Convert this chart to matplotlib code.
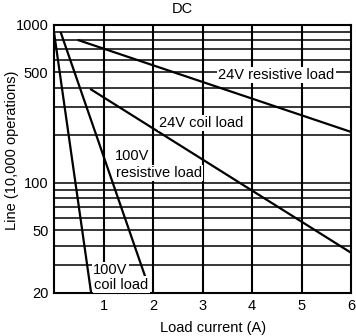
import matplotlib.pyplot as plt
from matplotlib.ticker import FixedLocator, NullLocator

plt.rcParams['font.family'] = ['Liberation Sans', 'DejaVu Sans']

# data (x: load current A, y: life in 10,000 operations)
res24_x = [0.5, 6.0]
res24_y = [800, 210]
coil24_x = [0.75, 6.0]
coil24_y = [390, 36]
res100_x = [0.14, 1.85]
res100_y = [890, 25]
coil100_x = [0.0, 0.75]
coil100_y = [900, 20]

grid_y = [20, 30, 40, 50, 60, 70, 80, 90, 100, 200, 300, 400, 500, 600, 700, 800, 900, 1000]
labeled_y = [20, 50, 100, 500, 1000]
x_ticks = [1, 2, 3, 4, 5, 6]

fs = 10.5

fig = plt.figure(figsize=(3.56, 3.36), dpi=100)
ax = fig.add_axes([54 / 356, 43 / 336, 297 / 356, 268 / 336])

ax.set_yscale('log')
ax.set_xlim(0, 6)
ax.set_ylim(20, 1000)

ax.yaxis.set_major_locator(FixedLocator(grid_y))
ax.yaxis.set_minor_locator(NullLocator())
ax.set_yticklabels([str(v) if v in labeled_y else '' for v in grid_y])
ax.set_xticks(x_ticks)
ax.set_xticklabels([str(v) for v in x_ticks])
ax.tick_params(length=0, labelsize=fs, pad=4)

for v in grid_y:
    ax.axhline(v, color='black', lw=1.1, zorder=1)
for v in x_ticks[:-1]:
    ax.axvline(v, color='black', lw=1.5, zorder=1)
for s in ax.spines.values():
    s.set_linewidth(1.5)

lc = dict(color='black', lw=1.6, zorder=3)
ax.plot(res24_x, res24_y, **lc)
ax.plot(coil24_x, coil24_y, **lc)
ax.plot(res100_x, res100_y, **lc)
ax.plot(coil100_x, coil100_y, **lc)

box = dict(facecolor='white', edgecolor='none', pad=0.8)
tk = dict(fontsize=fs, zorder=4, bbox=box, va='center')
ax.text(4.49, 480, '24V resistive load', ha='center', **tk)
ax.text(2.98, 239, '24V coil load', ha='center', **tk)
ax.text(1.23, 148, '100V', ha='left', **tk)
ax.text(1.25, 115, 'resistive load', ha='left', **tk)
ax.text(0.79, 27.9, '100V', ha='left', **tk)
ax.text(0.81, 22.6, 'coil load', ha='left', **tk)

ax.text(2.6, 1.035, 'DC', transform=ax.get_xaxis_transform(), ha='center', va='bottom', fontsize=fs)
fig.text(213 / 356, 1 - 328 / 336, 'Load current (A)', ha='center', va='center', fontsize=fs)
fig.text(12 / 356, 1 - 150 / 336, 'Line (10,000 operations)', ha='center', va='center',
         rotation=90, fontsize=fs)

fig.savefig('out.png', dpi=100)
